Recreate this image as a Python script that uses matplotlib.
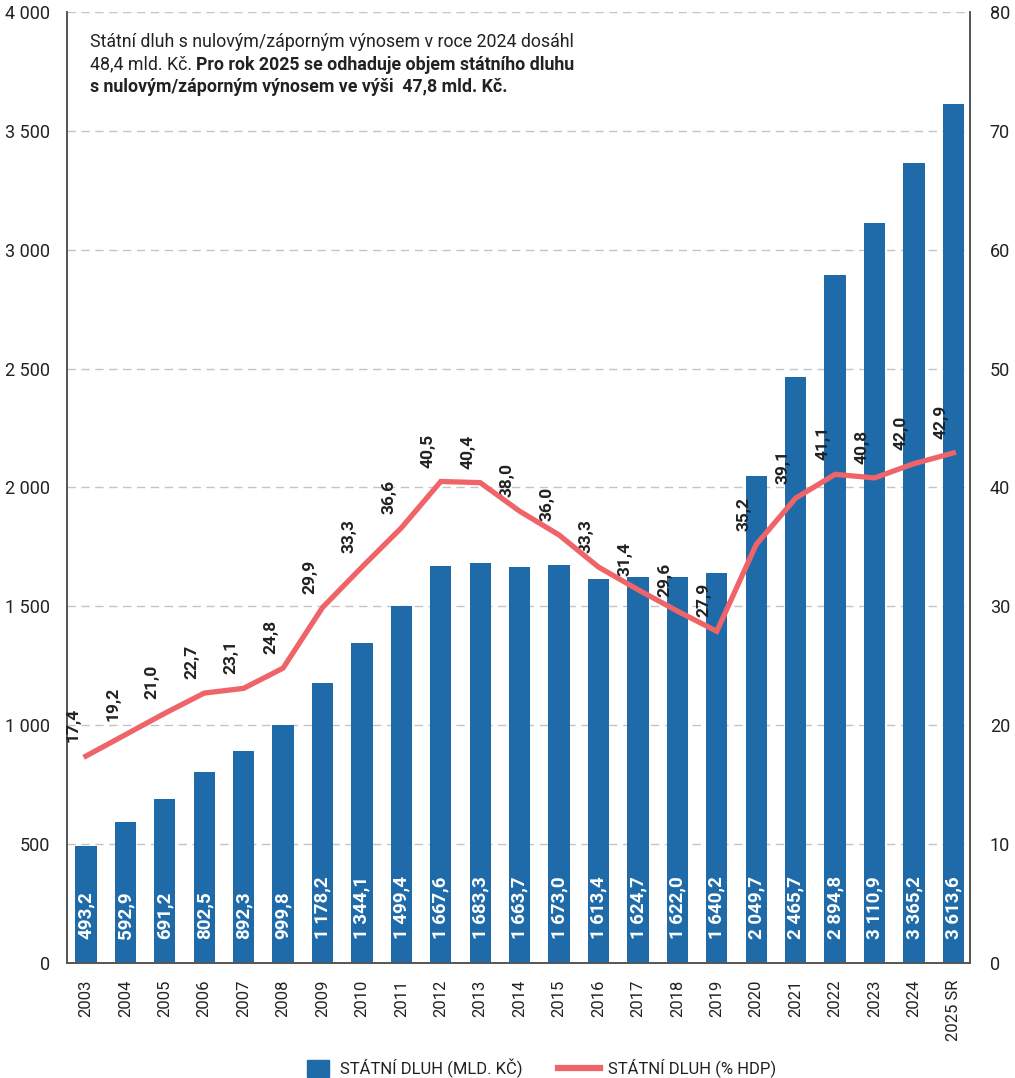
import numpy as np
import matplotlib.pyplot as plt
from matplotlib.lines import Line2D
from matplotlib.patches import Patch

plt.rcParams['font.family'] = ['Roboto', 'DejaVu Sans']

years = ['2003', '2004', '2005', '2006', '2007', '2008', '2009', '2010', '2011', '2012',
         '2013', '2014', '2015', '2016', '2017', '2018', '2019', '2020', '2021', '2022',
         '2023', '2024', '2025 SR']
debt_bn = [493.2, 592.9, 691.2, 802.5, 892.3, 999.8, 1178.2, 1344.1, 1499.4, 1667.6,
           1683.3, 1663.7, 1673.0, 1613.4, 1624.7, 1622.0, 1640.2, 2049.7, 2465.7, 2894.8,
           3110.9, 3365.2, 3613.6]
debt_gdp = [17.4, 19.2, 21.0, 22.7, 23.1, 24.8, 29.9, 33.3, 36.6, 40.5,
            40.4, 38.0, 36.0, 33.3, 31.4, 29.6, 27.9, 35.2, 39.1, 41.1,
            40.8, 42.0, 42.9]

BLUE = '#1f6aa9'
RED = '#ef6468'
TXT = '#222222'


def cz(v, dec=1):
    s = f"{v:,.{dec}f}"
    return s.replace(',', ' ').replace('.', ',')


fig = plt.figure(figsize=(10.15, 10.78), dpi=100)
ax = fig.add_axes([0.066, 0.1067, 0.890, 0.8823])
ax2 = ax.twinx()

x = np.arange(len(years))
ax.bar(x, debt_bn, width=0.54, color=BLUE, zorder=2)
for xi, v in zip(x, debt_bn):
    ax.text(xi, 100, cz(v), rotation=90, ha='center', va='bottom', color='white',
            fontsize=13.5, fontweight='bold', zorder=3)

ax.set_xlim(-0.48, len(years) - 0.57)
ax.set_ylim(0, 4000)
ax.set_yticks(np.arange(0, 4001, 500))
ax.set_yticklabels([cz(t, 0) for t in np.arange(0, 4001, 500)])
ax.yaxis.grid(True, linestyle=(0, (6, 4)), color='#c4c4c4', linewidth=1, zorder=0)
ax.set_axisbelow(True)
ax.set_xticks(x)
ax.set_xticklabels(years, rotation=90)
ax.tick_params(axis='both', length=0, labelsize=13, colors=TXT)
ax.tick_params(axis='x', labelsize=12, pad=12)
ax.tick_params(axis='y', pad=12)

ax2.plot(x, debt_gdp, color=RED, linewidth=3.8, zorder=4, solid_joinstyle='miter')
for xi, v in zip(x, debt_gdp):
    ax2.annotate(cz(v), (xi, v), xytext=(-9, 10), textcoords='offset points',
                 rotation=90, ha='center', va='bottom', fontsize=12.5,
                 fontweight='bold', color=TXT)
ax2.set_ylim(0, 80)
ax2.set_yticks(np.arange(0, 81, 10))
ax2.tick_params(axis='y', length=0, labelsize=13, colors=TXT, pad=14)

for a in (ax, ax2):
    a.spines['top'].set_visible(False)
    for s in ('left', 'right', 'bottom'):
        a.spines[s].set_color('#555555')
        a.spines[s].set_linewidth(1.2)

# note in the top left corner
fig.canvas.draw()
r = fig.canvas.get_renderer()
fx, fy = 90 / 1015, 1 - 42 / 1078
lh = 22.5 / 1078
fs = 12.75
fig.text(fx, fy, 'Státní dluh s nulovým/záporným výnosem v roce 2024 dosáhl',
         fontsize=fs, color=TXT, va='center')
t1 = fig.text(fx, fy - lh, '48,4 mld. Kč. ', fontsize=fs, color=TXT, va='center')
bb = t1.get_window_extent(r)
fig.text(bb.x1 / fig.bbox.width, fy - lh, 'Pro rok 2025 se odhaduje objem státního dluhu',
         fontsize=fs, color=TXT, va='center', fontweight='bold')
fig.text(fx, fy - 2 * lh, 's nulovým/záporným výnosem ve výši  47,8 mld. Kč.',
         fontsize=fs, color=TXT, va='center', fontweight='bold')

ly = 1 - 1068 / 1078
fig.legend(handles=[Patch(color=BLUE, label='STÁTNÍ DLUH (MLD. KČ)')],
           loc='center left', bbox_to_anchor=(307 / 1015, ly), frameon=False,
           fontsize=12, handlelength=1.3, handleheight=1.2, handletextpad=0.7,
           borderpad=0, borderaxespad=0, labelcolor=TXT)
fig.legend(handles=[Line2D([0], [0], color=RED, linewidth=4.5, label='STÁTNÍ DLUH (% HDP)')],
           loc='center left', bbox_to_anchor=(558 / 1015, ly), frameon=False,
           fontsize=12, handlelength=2.5, handletextpad=0.5,
           borderpad=0, borderaxespad=0, labelcolor=TXT)

fig.savefig('out.png', dpi=100)
